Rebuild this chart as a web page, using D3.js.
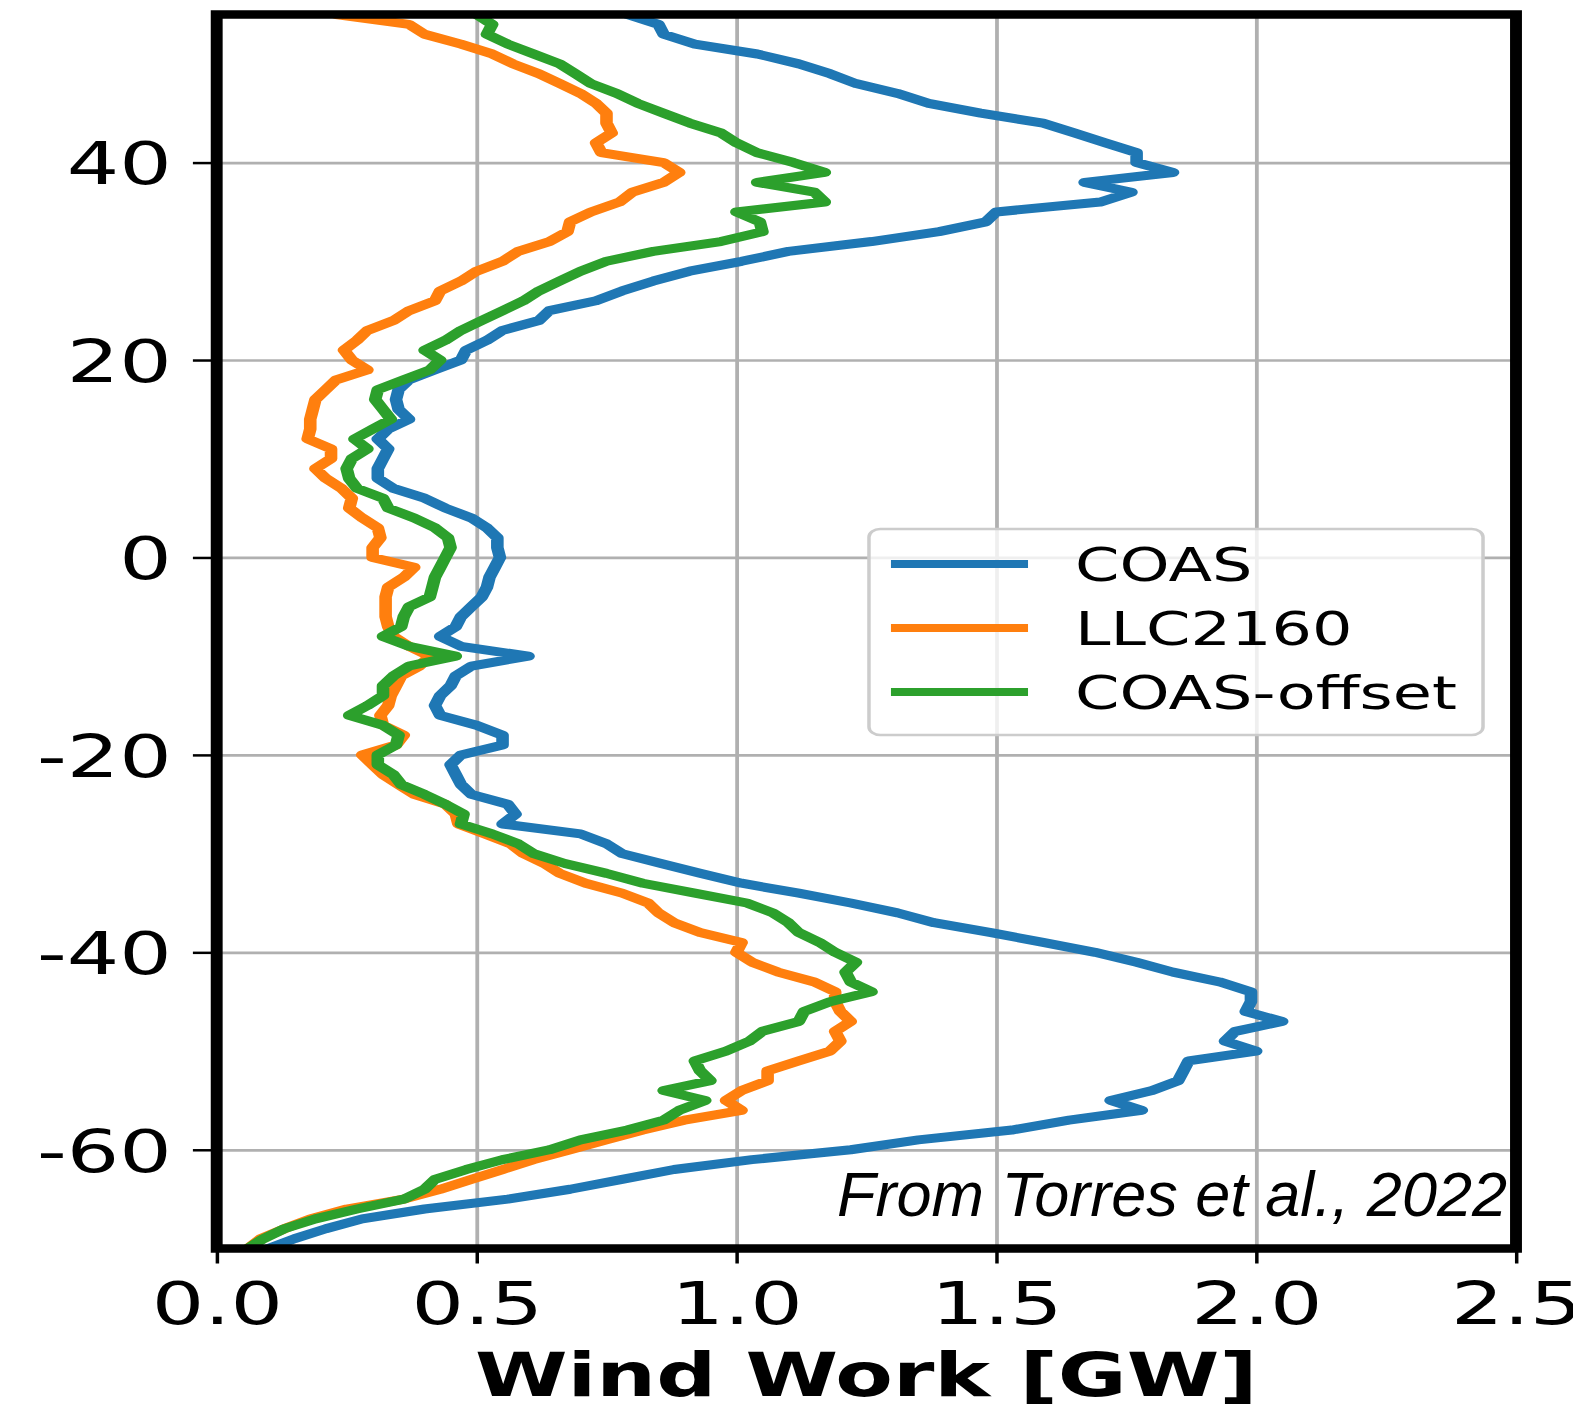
<!DOCTYPE html>
<html>
<head>
<meta charset="utf-8">
<script src="https://cdn.jsdelivr.net/npm/d3@7/dist/d3.min.js"></script>
<style>
  body { margin: 0; background: #fff; }
  svg { display: block; }
</style>
</head>
<body>
<svg id="chart"></svg>
<script>
// Latitude (y) of every sample, north to south
var latitude = [
  55, 54, 53, 52, 51, 50, 49, 48, 47, 46,
  45, 44, 43, 42, 41, 40, 39, 38, 37, 36,
  35, 34, 33, 32, 31, 30, 29, 28, 27, 26,
  25, 24, 23, 22, 21, 20, 19, 18, 17, 16,
  15, 14, 13, 12, 11, 10, 9, 8, 7, 6,
  5, 4, 3, 2, 1, 0, -1, -2, -3, -4,
  -5, -6, -7, -8, -9, -10, -11, -12, -13, -14,
  -15, -16, -17, -18, -19, -20, -21, -22, -23, -24,
  -25, -26, -27, -28, -29, -30, -31, -32, -33, -34,
  -35, -36, -37, -38, -39, -40, -41, -42, -43, -44,
  -45, -46, -47, -48, -49, -50, -51, -52, -53, -54,
  -55, -56, -57, -58, -59, -60, -61, -62, -63, -64,
  -65, -66, -67, -68, -69, -70
];

// Wind work [GW]
var coasWork = [
  0.79, 0.85, 0.86, 0.92, 1.04, 1.12, 1.18, 1.23, 1.31, 1.37,
  1.47, 1.59, 1.65, 1.71, 1.77, 1.77, 1.84, 1.67, 1.76, 1.70,
  1.50, 1.48, 1.39, 1.26, 1.10, 1.01, 0.91, 0.84, 0.78, 0.73,
  0.64, 0.62, 0.55, 0.52, 0.48, 0.47, 0.42, 0.37, 0.35, 0.345,
  0.35, 0.37, 0.33, 0.31, 0.33, 0.32, 0.31, 0.31, 0.34, 0.40,
  0.44, 0.49, 0.52, 0.54, 0.54, 0.545, 0.535, 0.525, 0.52, 0.51,
  0.49, 0.47, 0.46, 0.43, 0.47, 0.60, 0.49, 0.46, 0.45, 0.43,
  0.42, 0.43, 0.50, 0.55, 0.55, 0.47, 0.45, 0.46, 0.47, 0.49,
  0.56, 0.575, 0.55, 0.70, 0.75, 0.78, 0.855, 0.93, 1.01, 1.12,
  1.22, 1.31, 1.38, 1.49, 1.59, 1.69, 1.77, 1.84, 1.93, 1.99,
  1.99, 1.98, 2.05, 1.96, 1.94, 2.00, 1.87, 1.86, 1.85, 1.80,
  1.72, 1.78, 1.64, 1.53, 1.35, 1.22, 1.03, 0.88, 0.78, 0.68,
  0.56, 0.40, 0.28, 0.21, 0.15, 0.10
];

var llcWork = [
  0.23, 0.37, 0.40, 0.47, 0.53, 0.57, 0.62, 0.66, 0.70, 0.73,
  0.75, 0.75, 0.76, 0.73, 0.74, 0.86, 0.89, 0.86, 0.80, 0.775,
  0.72, 0.68, 0.675, 0.64, 0.58, 0.55, 0.50, 0.47, 0.43, 0.42,
  0.37, 0.34, 0.29, 0.27, 0.245, 0.26, 0.29, 0.23, 0.21, 0.19,
  0.185, 0.18, 0.18, 0.175, 0.22, 0.22, 0.19, 0.21, 0.24, 0.26,
  0.255, 0.28, 0.31, 0.315, 0.30, 0.30, 0.38, 0.36, 0.33, 0.325,
  0.325, 0.325, 0.33, 0.34, 0.37, 0.41, 0.39, 0.355, 0.345, 0.335,
  0.33, 0.315, 0.32, 0.36, 0.345, 0.28, 0.30, 0.32, 0.35, 0.38,
  0.44, 0.46, 0.465, 0.515, 0.565, 0.59, 0.63, 0.66, 0.71, 0.78,
  0.83, 0.85, 0.88, 0.93, 1.01, 1.00, 1.03, 1.08, 1.15, 1.19,
  1.19, 1.20, 1.22, 1.19, 1.20, 1.18, 1.12, 1.06, 1.06, 1.01,
  0.98, 1.01, 0.90, 0.82, 0.75, 0.68, 0.61, 0.55, 0.49, 0.43,
  0.36, 0.25, 0.18, 0.13, 0.085, 0.06
];

var offsetWork = [
  0.50, 0.53, 0.52, 0.56, 0.61, 0.66, 0.69, 0.72, 0.77, 0.81,
  0.86, 0.91, 0.97, 1.00, 1.04, 1.11, 1.17, 1.04, 1.15, 1.17,
  1.00, 1.045, 1.05, 0.97, 0.84, 0.75, 0.70, 0.66, 0.62, 0.59,
  0.55, 0.51, 0.47, 0.44, 0.40, 0.43, 0.41, 0.36, 0.31, 0.305,
  0.32, 0.335, 0.30, 0.265, 0.29, 0.26, 0.25, 0.255, 0.27, 0.32,
  0.33, 0.38, 0.42, 0.445, 0.45, 0.44, 0.43, 0.42, 0.415, 0.41,
  0.37, 0.36, 0.355, 0.32, 0.37, 0.46, 0.37, 0.34, 0.32, 0.32,
  0.29, 0.255, 0.32, 0.35, 0.345, 0.31, 0.31, 0.34, 0.355, 0.40,
  0.44, 0.475, 0.47, 0.53, 0.58, 0.61, 0.67, 0.75, 0.82, 0.92,
  1.02, 1.07, 1.10, 1.12, 1.16, 1.19, 1.23, 1.21, 1.22, 1.26,
  1.18, 1.13, 1.12, 1.05, 1.025, 0.98, 0.92, 0.93, 0.95, 0.86,
  0.94, 0.89, 0.86, 0.79, 0.70, 0.64, 0.55, 0.48, 0.42, 0.40,
  0.36, 0.27, 0.19, 0.13, 0.09, 0.06
];

var seriesNames = ["COAS", "LLC2160", "COAS-offset"];
var seriesColors = ["#1f77b4", "#ff7f0e", "#2ca02c"];
var xTicks = [0, 0.5, 1.0, 1.5, 2.0, 2.5];
var yTicks = [-60, -40, -20, 0, 20, 40];
var xLabel = "Wind Work [GW]";
var credit = "From Torres et al., 2022";

window.onload = function() {

  // The original figure is stretched sideways, so draw it narrow and scale it
  var width = 1573,
      height = 1409,
      stretch = 1.4,
      font = "'DejaVu Sans', sans-serif";

  var svg = d3.select("#chart")
    .attr("width", width)
    .attr("height", height);

  svg.append("rect")
    .attr("width", width)
    .attr("height", height)
    .attr("fill", "#fff");

  var g = svg.append("g")
    .attr("transform", "scale(" + stretch + ",1)");

  var x = d3.scaleLinear().domain([0, 2.5]).range([216.7 / stretch, 1516 / stretch]);
  var y = d3.scaleLinear().domain([-70, 55]).range([1248.5, 14.5]);

  var left = x.range()[0], right = x.range()[1],
      top = y.range()[1], bottom = y.range()[0];

  // grid
  g.append("g")
    .attr("transform", "translate(0," + bottom + ")")
    .call(d3.axisBottom(x).tickValues(xTicks).tickSize(-(bottom - top)).tickFormat(""))
    .call(function(s) {
      s.select(".domain").remove();
      s.selectAll("line").attr("stroke", "#b0b0b0").attr("stroke-width", 2.7);
    });

  g.append("g")
    .attr("transform", "translate(" + left + ",0)")
    .call(d3.axisLeft(y).tickValues(yTicks).tickSize(-(right - left)).tickFormat(""))
    .call(function(s) {
      s.select(".domain").remove();
      s.selectAll("line").attr("stroke", "#b0b0b0").attr("stroke-width", 2.7);
    });

  // lines
  g.append("clipPath").attr("id", "plotClip")
    .append("rect")
    .attr("x", left).attr("y", top)
    .attr("width", right - left).attr("height", bottom - top);

  var allSeries = [coasWork, llcWork, offsetWork];
  var line = d3.line()
    .x(function(d) { return x(d[1]); })
    .y(function(d) { return y(d[0]); });

  g.append("g")
    .attr("clip-path", "url(#plotClip)")
    .selectAll("path")
    .data(allSeries)
    .enter().append("path")
    .attr("d", function(vals) { return line(d3.zip(latitude, vals)); })
    .attr("fill", "none")
    .attr("stroke", function(d, i) { return seriesColors[i]; })
    .attr("stroke-width", 9)
    .attr("stroke-linejoin", "round")
    .attr("stroke-linecap", "round");

  // frame
  g.append("rect")
    .attr("x", left).attr("y", top)
    .attr("width", right - left).attr("height", bottom - top)
    .attr("fill", "none")
    .attr("stroke", "#000")
    .attr("stroke-width", 8.5);

  // axes
  var xAxis = g.append("g")
    .attr("transform", "translate(0," + bottom + ")")
    .call(d3.axisBottom(x).tickValues(xTicks).tickSize(15).tickPadding(18)
      .tickFormat(d3.format(".1f")));

  var yAxis = g.append("g")
    .attr("transform", "translate(" + left + ",0)")
    .call(d3.axisLeft(y).tickValues(yTicks).tickSize(17).tickPadding(15)
      .tickFormat(function(d) { return String(d); }));

  [xAxis, yAxis].forEach(function(a) {
    a.select(".domain").remove();
    a.selectAll("line").attr("stroke", "#000").attr("stroke-width", 2.5);
    a.selectAll("text")
      .attr("fill", "#000")
      .style("font-family", font)
      .style("font-size", "59px");
  });
  yAxis.selectAll("text").attr("dy", "0.36em");
  xAxis.selectAll("text").attr("dy", "0.72em");

  g.append("text")
    .attr("x", (x(0) + x(2.5)) / 2)
    .attr("y", 1396)
    .attr("text-anchor", "middle")
    .style("font-family", font)
    .style("font-weight", "bold")
    .style("font-size", "60px")
    .text(xLabel);

  // legend
  var legend = g.append("g");
  legend.append("rect")
    .attr("x", 620.7).attr("y", 529)
    .attr("width", 438.6).attr("height", 206)
    .attr("rx", 8).attr("ry", 8)
    .attr("fill", "#fff").attr("fill-opacity", 0.8)
    .attr("stroke", "#cccccc").attr("stroke-width", 2.5);

  var items = legend.selectAll("g.item")
    .data(seriesNames)
    .enter().append("g")
    .attr("class", "item")
    .attr("transform", function(d, i) { return "translate(0," + (564 + i * 64) + ")"; });

  items.append("line")
    .attr("x1", 636.4).attr("x2", 734.3)
    .attr("stroke", function(d, i) { return seriesColors[i]; })
    .attr("stroke-width", 8);

  items.append("text")
    .attr("x", 767.9)
    .attr("y", 17)
    .style("font-family", font)
    .style("font-size", "45.5px")
    .text(function(d) { return d; });

  // credit, added on top without the stretch
  svg.append("text")
    .attr("x", 1507)
    .attr("y", 1216)
    .attr("text-anchor", "end")
    .style("font-family", "'Liberation Sans', Arial, sans-serif")
    .style("font-style", "italic")
    .style("font-size", "63px")
    .text(credit);
};
</script>
</body>
</html>
